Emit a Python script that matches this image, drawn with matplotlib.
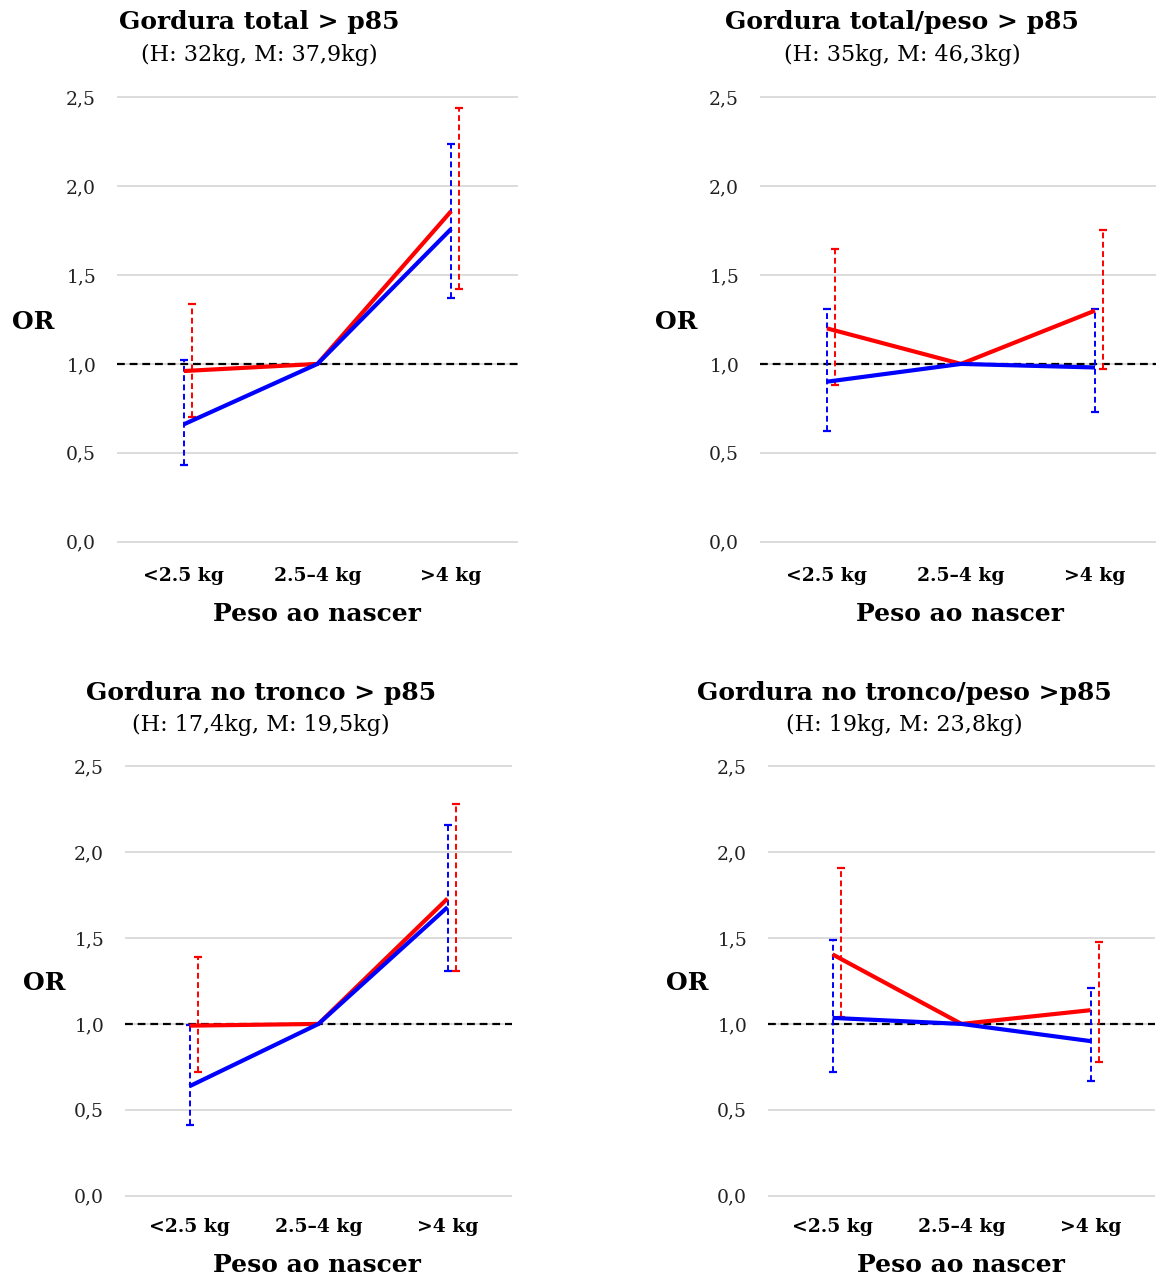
import matplotlib
matplotlib.use('Agg')
import matplotlib.pyplot as plt
import matplotlib.transforms as mtransforms
import numpy as np

W, H = 1156, 1279
plt.rcParams['font.family'] = ['DejaVu Serif']

categories = ['<2.5 kg', '2.5–4 kg', '>4 kg']
titles = ['Gordura total > p85', 'Gordura total/peso > p85',
          'Gordura no tronco > p85', 'Gordura no tronco/peso >p85']
subtitles = ['(H: 32kg, M: 37,9kg)', '(H: 35kg, M: 46,3kg)',
             '(H: 17,4kg, M: 19,5kg)', '(H: 19kg, M: 23,8kg)']
yticks = [0.0, 0.5, 1.0, 1.5, 2.0, 2.5]
ytick_labels = ['0,0', '0,5', '1,0', '1,5', '2,0', '2,5']
xlabel = 'Peso ao nascer'
ylabel = 'OR'

# Odds ratios (blue = H, red = M); the middle category is the reference (1.0)
blue_or_1 = [0.66, 1.0, 1.76]
blue_lo_1 = [0.43, np.nan, 1.37]
blue_hi_1 = [1.02, np.nan, 2.24]
red_or_1 = [0.96, 1.0, 1.86]
red_lo_1 = [0.70, np.nan, 1.42]
red_hi_1 = [1.34, np.nan, 2.44]

blue_or_2 = [0.90, 1.0, 0.98]
blue_lo_2 = [0.62, np.nan, 0.73]
blue_hi_2 = [1.31, np.nan, 1.31]
red_or_2 = [1.20, 1.0, 1.30]
red_lo_2 = [0.88, np.nan, 0.97]
red_hi_2 = [1.645, np.nan, 1.755]

blue_or_3 = [0.637, 1.0, 1.68]
blue_lo_3 = [0.41, np.nan, 1.31]
blue_hi_3 = [0.995, np.nan, 2.16]
red_or_3 = [0.99, 1.0, 1.73]
red_lo_3 = [0.72, np.nan, 1.31]
red_hi_3 = [1.39, np.nan, 2.28]

blue_or_4 = [1.035, 1.0, 0.90]
blue_lo_4 = [0.72, np.nan, 0.665]
blue_hi_4 = [1.49, np.nan, 1.21]
red_or_4 = [1.405, 1.0, 1.08]
red_lo_4 = [1.04, np.nan, 0.78]
red_hi_4 = [1.91, np.nan, 1.48]

panels = [
    (blue_or_1, blue_lo_1, blue_hi_1, red_or_1, red_lo_1, red_hi_1),
    (blue_or_2, blue_lo_2, blue_hi_2, red_or_2, red_lo_2, red_hi_2),
    (blue_or_3, blue_lo_3, blue_hi_3, red_or_3, red_lo_3, red_hi_3),
    (blue_or_4, blue_lo_4, blue_hi_4, red_or_4, red_lo_4, red_hi_4),
]

# axes boxes in pixels: left, top, right, bottom
boxes = [(117, 96, 518, 543), (760, 96, 1162, 543),
         (125, 765, 512, 1197), (768, 765, 1155, 1197)]
title_pos = [(259, 22), (902, 22), (261, 693), (904, 693)]
sub_pos = [(259, 55), (902, 55), (261, 725), (904, 725)]
or_pos = [(33, 322), (676, 322), (44, 983), (687, 983)]
xlab_pos = [(317, 614), (960, 614), (317, 1265), (961, 1265)]

fig = plt.figure(figsize=(W / 100, H / 100), dpi=100)

RED = '#ff0000'
BLUE = '#0000ff'

def fx(x):
    return x / W

def fy(y):
    return 1 - y / H

for i, (l, t, r, b) in enumerate(boxes):
    ax = fig.add_axes([fx(l), fy(b), (r - l) / W, (b - t) / H])
    bo, blo, bhi, ro, rlo, rhi = panels[i]
    x = np.arange(len(categories))
    ax.set_xlim(-0.5, 2.5)
    ax.set_ylim(-0.008, 2.508)
    for yv in yticks:
        ax.axhline(yv, color='#d9d9d9', lw=1.3, zorder=0)
    ax.axhline(1.0, color='black', lw=1.6, ls=(0, (3.5, 2.2)), zorder=1)

    off = mtransforms.ScaledTranslation(8 / 100, 0, fig.dpi_scale_trans)
    bo_a, blo_a, bhi_a = np.array(bo), np.array(blo), np.array(bhi)
    ro_a, rlo_a, rhi_a = np.array(ro), np.array(rlo), np.array(rhi)
    idx = np.array([0, 2])
    eb = ax.errorbar(x[idx], bo_a[idx],
                     yerr=[bo_a[idx] - blo_a[idx], bhi_a[idx] - bo_a[idx]],
                     fmt='none', ecolor=BLUE, elinewidth=1.4, capsize=3,
                     capthick=1.6, zorder=3)
    eb[2][0].set_linestyle((0, (3, 1.8)))
    eb2 = ax.errorbar(x[idx], ro_a[idx],
                      yerr=[ro_a[idx] - rlo_a[idx], rhi_a[idx] - ro_a[idx]],
                      fmt='none', ecolor=RED, elinewidth=1.4, capsize=3,
                      capthick=1.6, zorder=3,
                      transform=ax.transData + off)
    eb2[2][0].set_linestyle((0, (3, 1.8)))
    ax.plot(x, ro, color=RED, lw=3.0, zorder=4, solid_capstyle='butt')
    ax.plot(x, bo, color=BLUE, lw=3.0, zorder=5, solid_capstyle='butt')

    ax.set_yticks(yticks)
    ax.set_yticklabels(ytick_labels, fontsize=13.5, color='#222222')
    ax.set_xticks(x)
    ax.set_xticklabels(categories, fontsize=13.5, fontweight='bold')
    ax.tick_params(axis='y', length=0, pad=15)
    ax.tick_params(axis='x', length=0, pad=17 if i < 2 else 15)
    for s in ax.spines.values():
        s.set_visible(False)
    ax.grid(False)

    fig.text(fx(title_pos[i][0]), fy(title_pos[i][1]), titles[i],
             ha='center', va='center', fontsize=18, fontweight='bold')
    fig.text(fx(sub_pos[i][0]), fy(sub_pos[i][1]), subtitles[i],
             ha='center', va='center', fontsize=16)
    fig.text(fx(or_pos[i][0]), fy(or_pos[i][1]), ylabel,
             ha='center', va='center', fontsize=18, fontweight='bold')
    fig.text(fx(xlab_pos[i][0]), fy(xlab_pos[i][1]), xlabel,
             ha='center', va='center', fontsize=18, fontweight='bold')

fig.savefig('out.png', dpi=100, facecolor='white')
